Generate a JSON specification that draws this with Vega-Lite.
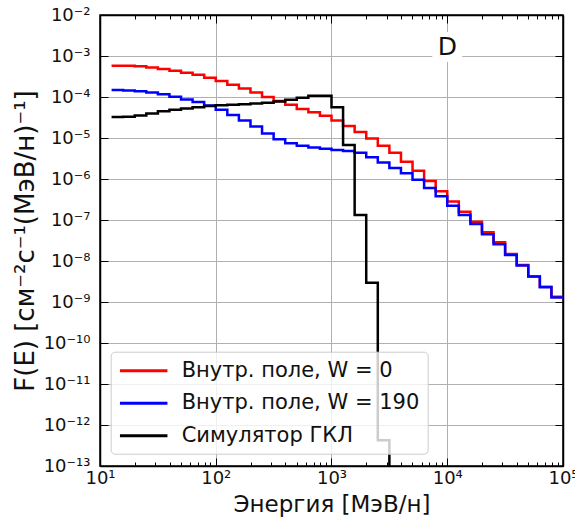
{
  "$schema": "https://vega.github.io/schema/vega-lite/v6.json",
  "width": 463,
  "height": 451,
  "autosize": "none",
  "padding": {"left": 100, "top": 15, "right": 12, "bottom": 54},
  "background": "white",
  "config": {
    "font": "DejaVu Sans",
    "view": {"stroke": "black", "strokeWidth": 1.5},
    "axis": {"zindex": 0, "labelColor": "#111", "titleColor": "#111", "titleFontWeight": "normal", "labelFlush": false, "labelOverlap": false, "labelBound": false, "tickColor": "black", "domainColor": "black", "domainWidth": 1.5}
  },
  "datasets": {
    "curves": [
      {"E": 12.589, "F": 5.75e-4, "series": "Внутр. поле, W = 0"},
      {"E": 15.849, "F": 5.75e-4, "series": "Внутр. поле, W = 0"},
      {"E": 19.953, "F": 5.62e-4, "series": "Внутр. поле, W = 0"},
      {"E": 25.119, "F": 5.25e-4, "series": "Внутр. поле, W = 0"},
      {"E": 31.623, "F": 4.79e-4, "series": "Внутр. поле, W = 0"},
      {"E": 39.811, "F": 4.37e-4, "series": "Внутр. поле, W = 0"},
      {"E": 50.119, "F": 3.89e-4, "series": "Внутр. поле, W = 0"},
      {"E": 63.096, "F": 3.47e-4, "series": "Внутр. поле, W = 0"},
      {"E": 79.433, "F": 2.95e-4, "series": "Внутр. поле, W = 0"},
      {"E": 100, "F": 2.45e-4, "series": "Внутр. поле, W = 0"},
      {"E": 125.89, "F": 2.0e-4, "series": "Внутр. поле, W = 0"},
      {"E": 158.49, "F": 1.62e-4, "series": "Внутр. поле, W = 0"},
      {"E": 199.53, "F": 1.29e-4, "series": "Внутр. поле, W = 0"},
      {"E": 251.19, "F": 1.0e-4, "series": "Внутр. поле, W = 0"},
      {"E": 316.23, "F": 7.94e-5, "series": "Внутр. поле, W = 0"},
      {"E": 398.11, "F": 6.46e-5, "series": "Внутр. поле, W = 0"},
      {"E": 501.19, "F": 5.13e-5, "series": "Внутр. поле, W = 0"},
      {"E": 630.96, "F": 4.27e-5, "series": "Внутр. поле, W = 0"},
      {"E": 794.33, "F": 3.47e-5, "series": "Внутр. поле, W = 0"},
      {"E": 1000, "F": 2.69e-5, "series": "Внутр. поле, W = 0"},
      {"E": 1258.9, "F": 1.95e-5, "series": "Внутр. поле, W = 0"},
      {"E": 1584.9, "F": 1.41e-5, "series": "Внутр. поле, W = 0"},
      {"E": 1995.3, "F": 9.77e-6, "series": "Внутр. поле, W = 0"},
      {"E": 2511.9, "F": 6.46e-6, "series": "Внутр. поле, W = 0"},
      {"E": 3162.3, "F": 4.37e-6, "series": "Внутр. поле, W = 0"},
      {"E": 3981.1, "F": 2.63e-6, "series": "Внутр. поле, W = 0"},
      {"E": 5011.9, "F": 1.58e-6, "series": "Внутр. поле, W = 0"},
      {"E": 6309.6, "F": 8.91e-7, "series": "Внутр. поле, W = 0"},
      {"E": 7943.3, "F": 5.01e-7, "series": "Внутр. поле, W = 0"},
      {"E": 10000, "F": 2.82e-7, "series": "Внутр. поле, W = 0"},
      {"E": 12589, "F": 1.58e-7, "series": "Внутр. поле, W = 0"},
      {"E": 15849, "F": 9.12e-8, "series": "Внутр. поле, W = 0"},
      {"E": 19953, "F": 5.01e-8, "series": "Внутр. поле, W = 0"},
      {"E": 25119, "F": 2.88e-8, "series": "Внутр. поле, W = 0"},
      {"E": 31623, "F": 1.48e-8, "series": "Внутр. поле, W = 0"},
      {"E": 39811, "F": 7.94e-9, "series": "Внутр. поле, W = 0"},
      {"E": 50119, "F": 4.17e-9, "series": "Внутр. поле, W = 0"},
      {"E": 63096, "F": 2.34e-9, "series": "Внутр. поле, W = 0"},
      {"E": 79433, "F": 1.35e-9, "series": "Внутр. поле, W = 0"},
      {"E": 100000, "F": 1.35e-9, "series": "Внутр. поле, W = 0"},
      {"E": 12.589, "F": 1.48e-4, "series": "Внутр. поле, W = 190"},
      {"E": 15.849, "F": 1.45e-4, "series": "Внутр. поле, W = 190"},
      {"E": 19.953, "F": 1.38e-4, "series": "Внутр. поле, W = 190"},
      {"E": 25.119, "F": 1.29e-4, "series": "Внутр. поле, W = 190"},
      {"E": 31.623, "F": 1.17e-4, "series": "Внутр. поле, W = 190"},
      {"E": 39.811, "F": 1.02e-4, "series": "Внутр. поле, W = 190"},
      {"E": 50.119, "F": 8.71e-5, "series": "Внутр. поле, W = 190"},
      {"E": 63.096, "F": 7.59e-5, "series": "Внутр. поле, W = 190"},
      {"E": 79.433, "F": 6.17e-5, "series": "Внутр. поле, W = 190"},
      {"E": 100, "F": 4.9e-5, "series": "Внутр. поле, W = 190"},
      {"E": 125.89, "F": 3.63e-5, "series": "Внутр. поле, W = 190"},
      {"E": 158.49, "F": 2.69e-5, "series": "Внутр. поле, W = 190"},
      {"E": 199.53, "F": 1.91e-5, "series": "Внутр. поле, W = 190"},
      {"E": 251.19, "F": 1.29e-5, "series": "Внутр. поле, W = 190"},
      {"E": 316.23, "F": 9.33e-6, "series": "Внутр. поле, W = 190"},
      {"E": 398.11, "F": 7.41e-6, "series": "Внутр. поле, W = 190"},
      {"E": 501.19, "F": 6.46e-6, "series": "Внутр. поле, W = 190"},
      {"E": 630.96, "F": 5.89e-6, "series": "Внутр. поле, W = 190"},
      {"E": 794.33, "F": 5.5e-6, "series": "Внутр. поле, W = 190"},
      {"E": 1000, "F": 5.13e-6, "series": "Внутр. поле, W = 190"},
      {"E": 1258.9, "F": 4.79e-6, "series": "Внутр. поле, W = 190"},
      {"E": 1584.9, "F": 4.37e-6, "series": "Внутр. поле, W = 190"},
      {"E": 1995.3, "F": 3.39e-6, "series": "Внутр. поле, W = 190"},
      {"E": 2511.9, "F": 2.51e-6, "series": "Внутр. поле, W = 190"},
      {"E": 3162.3, "F": 1.86e-6, "series": "Внутр. поле, W = 190"},
      {"E": 3981.1, "F": 1.38e-6, "series": "Внутр. поле, W = 190"},
      {"E": 5011.9, "F": 9.55e-7, "series": "Внутр. поле, W = 190"},
      {"E": 6309.6, "F": 6.03e-7, "series": "Внутр. поле, W = 190"},
      {"E": 7943.3, "F": 3.8e-7, "series": "Внутр. поле, W = 190"},
      {"E": 10000, "F": 2.24e-7, "series": "Внутр. поле, W = 190"},
      {"E": 12589, "F": 1.32e-7, "series": "Внутр. поле, W = 190"},
      {"E": 15849, "F": 7.94e-8, "series": "Внутр. поле, W = 190"},
      {"E": 19953, "F": 4.47e-8, "series": "Внутр. поле, W = 190"},
      {"E": 25119, "F": 2.57e-8, "series": "Внутр. поле, W = 190"},
      {"E": 31623, "F": 1.41e-8, "series": "Внутр. поле, W = 190"},
      {"E": 39811, "F": 7.76e-9, "series": "Внутр. поле, W = 190"},
      {"E": 50119, "F": 4.17e-9, "series": "Внутр. поле, W = 190"},
      {"E": 63096, "F": 2.29e-9, "series": "Внутр. поле, W = 190"},
      {"E": 79433, "F": 1.29e-9, "series": "Внутр. поле, W = 190"},
      {"E": 100000, "F": 1.29e-9, "series": "Внутр. поле, W = 190"},
      {"E": 12.589, "F": 3.24e-5, "series": "Симулятор ГКЛ"},
      {"E": 15.849, "F": 3.31e-5, "series": "Симулятор ГКЛ"},
      {"E": 19.953, "F": 3.55e-5, "series": "Симулятор ГКЛ"},
      {"E": 25.119, "F": 3.98e-5, "series": "Симулятор ГКЛ"},
      {"E": 31.623, "F": 4.47e-5, "series": "Симулятор ГКЛ"},
      {"E": 39.811, "F": 4.9e-5, "series": "Симулятор ГКЛ"},
      {"E": 50.119, "F": 5.25e-5, "series": "Симулятор ГКЛ"},
      {"E": 63.096, "F": 5.62e-5, "series": "Симулятор ГКЛ"},
      {"E": 79.433, "F": 6.03e-5, "series": "Симулятор ГКЛ"},
      {"E": 100, "F": 6.31e-5, "series": "Симулятор ГКЛ"},
      {"E": 125.89, "F": 6.46e-5, "series": "Симулятор ГКЛ"},
      {"E": 158.49, "F": 6.61e-5, "series": "Симулятор ГКЛ"},
      {"E": 199.53, "F": 6.92e-5, "series": "Симулятор ГКЛ"},
      {"E": 251.19, "F": 7.24e-5, "series": "Симулятор ГКЛ"},
      {"E": 316.23, "F": 7.76e-5, "series": "Симулятор ГКЛ"},
      {"E": 398.11, "F": 8.51e-5, "series": "Симулятор ГКЛ"},
      {"E": 501.19, "F": 9.55e-5, "series": "Симулятор ГКЛ"},
      {"E": 630.96, "F": 1.07e-4, "series": "Симулятор ГКЛ"},
      {"E": 794.33, "F": 1.07e-4, "series": "Симулятор ГКЛ"},
      {"E": 1000, "F": 5.62e-5, "series": "Симулятор ГКЛ"},
      {"E": 1258.9, "F": 6.76e-6, "series": "Симулятор ГКЛ"},
      {"E": 1584.9, "F": 1.32e-7, "series": "Симулятор ГКЛ"},
      {"E": 1995.3, "F": 2.95e-9, "series": "Симулятор ГКЛ"},
      {"E": 2511.9, "F": 4.27e-13, "series": "Симулятор ГКЛ"},
      {"E": 3162.3, "F": 1e-16, "series": "Симулятор ГКЛ"}
    ]
  },
  "data": {"name": "curves"},
  "resolve": {"scale": {"x": "shared", "y": "shared"}, "axis": {"x": "independent", "y": "independent"}},
  "layer": [
    {
      "mark": {"type": "line", "interpolate": "step-after", "strokeWidth": 2.5, "clip": true},
      "encoding": {
        "x": {"field": "E", "type": "quantitative", "scale": {"type": "log", "domain": [10, 100000], "nice": false},
          "axis": {"orient": "bottom", "values": [10, 100, 1000, 10000, 100000],
            "labelExpr": "datum.value == 10 ? '10¹' : datum.value == 100 ? '10²' : datum.value == 1000 ? '10³' : datum.value == 10000 ? '10⁴' : '10⁵'",
            "labelFontSize": 18, "labelPadding": 11, "tickSize": -8, "tickWidth": 1,
            "grid": true, "gridColor": "#b0b0b0", "gridWidth": 1,
            "title": "Энергия [МэВ/н]", "titleFontSize": 23, "titlePadding": 6}},
        "y": {"field": "F", "type": "quantitative", "scale": {"type": "log", "domain": [1e-13, 0.01], "nice": false},
          "axis": {"orient": "left", "values": [1e-13, 1e-12, 1e-11, 1e-10, 1e-9, 1e-8, 1e-7, 1e-6, 1e-5, 1e-4, 0.001, 0.01],
            "labelExpr": "['10⁻²','10⁻³','10⁻⁴','10⁻⁵','10⁻⁶','10⁻⁷','10⁻⁸','10⁻⁹','10⁻¹⁰','10⁻¹¹','10⁻¹²','10⁻¹³'][round(-log(datum.value)/LN10) - 2]",
            "labelFontSize": 18, "labelPadding": 18, "tickSize": -8, "tickWidth": 1,
            "grid": true, "gridColor": "#b0b0b0", "gridWidth": 1,
            "title": "F(E) [см⁻²с⁻¹(МэВ/н)⁻¹]", "titleFontSize": 26, "titleX": -75, "titleBaseline": "middle", "titleAngle": -90}},
        "color": {"field": "series", "type": "nominal",
          "scale": {"domain": ["Внутр. поле, W = 0", "Внутр. поле, W = 190", "Симулятор ГКЛ"], "range": ["#ff0000", "#0000ff", "#000000"]},
          "legend": {"title": null, "orient": "none", "legendX": 10.7, "legendY": 336.7,
            "symbolType": "M-2.5,0H2.5", "symbolSize": 361, "symbolStrokeWidth": 3, "symbolOffset": 14,
            "labelOffset": 27, "labelFontSize": 21, "labelColor": "#111", "labelLimit": 400,
            "rowPadding": 11.5, "padding": 8, "fillColor": "rgba(255,255,255,0.8)", "strokeColor": "#cccccc", "cornerRadius": 4}}
      }
    },
    {
      "data": {"values": [{"E": 10000, "F": 0.00166, "label": "D"}]},
      "mark": {"type": "square", "size": 900, "color": "white", "opacity": 1, "filled": true},
      "encoding": {
        "x": {"field": "E", "type": "quantitative", "scale": {"type": "log", "domain": [10, 100000], "nice": false}, "axis": null},
        "y": {"field": "F", "type": "quantitative", "scale": {"type": "log", "domain": [1e-13, 0.01], "nice": false}, "axis": null}
      }
    },
    {
      "data": {"values": [{"E": 10000, "F": 0.00166, "label": "D"}]},
      "mark": {"type": "text", "fontSize": 25, "baseline": "middle", "align": "center", "color": "#111"},
      "encoding": {
        "x": {"field": "E", "type": "quantitative", "scale": {"type": "log", "domain": [10, 100000], "nice": false}, "axis": null},
        "y": {"field": "F", "type": "quantitative", "scale": {"type": "log", "domain": [1e-13, 0.01], "nice": false}, "axis": null},
        "text": {"field": "label"}
      }
    },
    {
      "mark": {"type": "point", "opacity": 0},
      "encoding": {
        "x": {"field": "E", "type": "quantitative", "scale": {"type": "log", "domain": [10, 100000], "nice": false},
          "axis": {"orient": "bottom", "values": [20,30,40,50,60,70,80,90,200,300,400,500,600,700,800,900,2000,3000,4000,5000,6000,7000,8000,9000,20000,30000,40000,50000,60000,70000,80000,90000],
            "labels": false, "grid": false, "tickSize": -4, "tickWidth": 1, "title": null, "domain": false}},
        "y": {"field": "F", "type": "quantitative", "scale": {"type": "log", "domain": [1e-13, 0.01], "nice": false},
          "axis": {"orient": "right", "values": [1e-13, 1e-12, 1e-11, 1e-10, 1e-9, 1e-8, 1e-7, 1e-6, 1e-5, 1e-4, 0.001, 0.01],
            "labels": false, "grid": false, "tickSize": -8, "tickWidth": 1, "title": null}}
      }
    },
    {
      "mark": {"type": "point", "opacity": 0},
      "encoding": {
        "x": {"field": "E", "type": "quantitative", "scale": {"type": "log", "domain": [10, 100000], "nice": false},
          "axis": {"orient": "top", "values": [10, 100, 1000, 10000, 100000],
            "labels": false, "grid": false, "tickSize": -8, "tickWidth": 1, "title": null}},
        "y": {"field": "F", "type": "quantitative", "scale": {"type": "log", "domain": [1e-13, 0.01], "nice": false}, "axis": null}
      }
    },
    {
      "mark": {"type": "point", "opacity": 0},
      "encoding": {
        "x": {"field": "E", "type": "quantitative", "scale": {"type": "log", "domain": [10, 100000], "nice": false},
          "axis": {"orient": "top", "values": [20,30,40,50,60,70,80,90,200,300,400,500,600,700,800,900,2000,3000,4000,5000,6000,7000,8000,9000,20000,30000,40000,50000,60000,70000,80000,90000],
            "labels": false, "grid": false, "tickSize": -4, "tickWidth": 1, "title": null, "domain": false}},
        "y": {"field": "F", "type": "quantitative", "scale": {"type": "log", "domain": [1e-13, 0.01], "nice": false}, "axis": null}
      }
    }
  ]
}
